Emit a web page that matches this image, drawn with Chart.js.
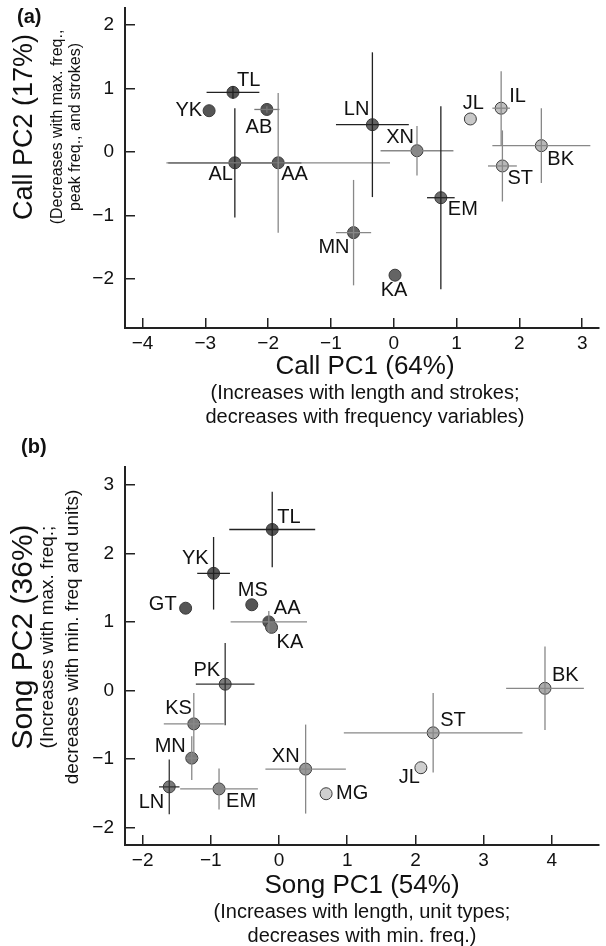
<!DOCTYPE html>
<html>
<head>
<meta charset="utf-8">
<title>Call and song PCA</title>
<script src="https://cdn.jsdelivr.net/npm/chart.js@4.4.0/dist/chart.umd.min.js"></script>
<style>
    body { margin: 0; background: #fff; width: 606px; height: 946px; position: relative; overflow: hidden; }
    canvas { position: absolute; left: 0; }
    #callChart { top: 0; }
    #songChart { top: 430px; }
</style>
</head>
<body>
<canvas id="callChart" width="606" height="440"></canvas>
<canvas id="songChart" width="606" height="516"></canvas>
<script>
// Panel (a): call PCA
const callSites = ['TL', 'YK', 'AB', 'AL', 'AA', 'LN', 'MN', 'XN', 'EM', 'KA', 'JL', 'IL', 'ST', 'BK'];
const callPC1 = [-2.56, -2.94, -2.02, -2.53, -1.84, -0.34, -0.64, 0.37, 0.75, 0.02, 1.22, 1.71, 1.73, 2.35];
const callPC2 = [0.94, 0.65, 0.67, -0.17, -0.17, 0.43, -1.27, 0.02, -0.72, -1.94, 0.52, 0.69, -0.22, 0.10];
const callErrPC1 = [0.42, 0, 0.20, 1.06, 1.78, 0.58, 0.28, 0.58, 0.22, 0, 0, 0.14, 0.23, 0.78];
const callErrPC2 = [0.10, 0, 0.05, 0.86, 1.10, 1.14, 0.83, 0.39, 1.44, 0, 0, 0.58, 0.56, 0.59];
const callTicksX = [-4, -3, -2, -1, 0, 1, 2, 3];
const callTicksY = [-2, -1, 0, 1, 2];

// Panel (b): song PCA
const songSites = ['TL', 'YK', 'GT', 'MS', 'AA', 'KA', 'PK', 'KS', 'MN', 'LN', 'EM', 'XN', 'MG', 'ST', 'JL', 'BK'];
const songPC1 = [-0.10, -0.96, -1.37, -0.40, -0.15, -0.11, -0.79, -1.25, -1.28, -1.61, -0.88, 0.39, 0.69, 2.26, 2.08, 3.90];
const songPC2 = [2.35, 1.71, 1.20, 1.25, 1.00, 0.92, 0.09, -0.49, -0.99, -1.41, -1.44, -1.15, -1.51, -0.62, -1.13, 0.03];
const songErrPC1 = [0.63, 0.24, 0, 0, 0.56, 0, 0.43, 0.44, 0.10, 0.15, 0.57, 0.59, 0, 1.31, 0, 0.57];
const songErrPC2 = [0.55, 0.53, 0, 0, 0.16, 0, 0.60, 0.45, 0.32, 0.40, 0.30, 0.65, 0, 0.58, 0, 0.61];
const songTicksX = [-2, -1, 0, 1, 2, 3, 4];
const songTicksY = [-2, -1, 0, 1, 2, 3];

// Styles (fill, error bar colour, label offset [dx, dy, align])
const callFill = ['#555', '#555', '#555', '#5c5c5c', '#5c5c5c', '#646464', '#646464', '#8a8a8a', '#6c6c6c', '#646464', '#c8c8c8', '#c0c0c0', '#b8b8b8', '#b8b8b8'];
const callBarColor = ['#222', '#777', '#777', '#222', '#888', '#222', '#888', '#888', '#222', '#888', '#888', '#888', '#888', '#888'];
const callLabelPos = [
    [4, -12, 'left'], [-7, 0, 'right'], [-8, 18, 'center'], [-2, 12, 'right'], [3, 12, 'left'],
    [-3, -15, 'right'], [-4, 15, 'right'], [-3, -13, 'right'], [7, 12, 'left'], [-1, 15, 'center'],
    [3, -15, 'center'], [8, -12, 'left'], [5, 13, 'left'], [6, 14, 'left']
];

const songFill = ['#555', '#555', '#555', '#555', '#555', '#777', '#7c7c7c', '#7c7c7c', '#7c7c7c', '#7c7c7c', '#888', '#999', '#cfcfcf', '#ababab', '#cfcfcf', '#ababab'];
const songBarColor = ['#222', '#222', '#888', '#888', '#888', '#888', '#333', '#888', '#888', '#333', '#888', '#888', '#888', '#888', '#888', '#888'];
const songLabelPos = [
    [5, -12, 'left'], [-5, -15, 'right'], [-9, -4, 'right'], [1, -14, 'center'], [5, -13, 'left'],
    [5, 15, 'left'], [-5, -14, 'right'], [-2, -15, 'right'], [-6, -12, 'right'], [-5, 16, 'right'],
    [7, 13, 'left'], [-6, -13, 'right'], [10, 0, 'left'], [7, -12, 'left'], [-1, 10, 'right'], [7, -13, 'left']
];

const FONT = "'Liberation Sans', Arial, Helvetica, sans-serif";

function minusSign(v) {
    return String(v).replace('-', '\u2212');
}

// error bars, site labels and axis titles
function overlayPlugin(p) {
    return {
        id: 'overlay',
        afterDatasetsDraw(chart) {
            const ctx = chart.ctx;
            const xs = chart.scales.x;
            const ys = chart.scales.y;
            ctx.save();
            ctx.lineWidth = 1.3;
            p.x.forEach((x, i) => {
                const cx = xs.getPixelForValue(x);
                const cy = ys.getPixelForValue(p.y[i]);
                ctx.strokeStyle = p.barColor[i];
                if (p.ex[i] > 0) {
                    ctx.beginPath();
                    ctx.moveTo(xs.getPixelForValue(x - p.ex[i]), cy);
                    ctx.lineTo(xs.getPixelForValue(x + p.ex[i]), cy);
                    ctx.stroke();
                }
                if (p.ey[i] > 0) {
                    ctx.beginPath();
                    ctx.moveTo(cx, ys.getPixelForValue(p.y[i] - p.ey[i]));
                    ctx.lineTo(cx, ys.getPixelForValue(p.y[i] + p.ey[i]));
                    ctx.stroke();
                }
            });
            ctx.fillStyle = '#111';
            ctx.font = '20px ' + FONT;
            ctx.textBaseline = 'middle';
            p.sites.forEach((s, i) => {
                const pos = p.labelPos[i];
                ctx.textAlign = pos[2];
                ctx.fillText(s, xs.getPixelForValue(p.x[i]) + pos[0], ys.getPixelForValue(p.y[i]) + pos[1]);
            });
            ctx.restore();
        },
        afterDraw(chart) {
            const ctx = chart.ctx;
            const t = p.titles;
            ctx.save();
            ctx.fillStyle = '#111';
            ctx.textBaseline = 'alphabetic';

            ctx.font = 'bold 20px ' + FONT;
            ctx.textAlign = 'left';
            ctx.fillText(t.panel[0], t.panel[1], t.panel[2]);

            ctx.textAlign = 'center';
            ctx.font = t.xSize + 'px ' + FONT;
            ctx.fillText(t.x[0], t.xCenter, t.xBase[0]);
            ctx.font = t.xSubSize + 'px ' + FONT;
            ctx.fillText(t.x[1], t.xCenter, t.xBase[1]);
            ctx.fillText(t.x[2], t.xCenter, t.xBase[2]);

            ctx.translate(0, t.yCenter);
            ctx.rotate(-Math.PI / 2);
            ctx.font = t.ySize + 'px ' + FONT;
            ctx.fillText(t.y[0], 0, t.yBase[0]);
            ctx.font = t.ySubSize + 'px ' + FONT;
            ctx.fillText(t.y[1], 0, t.yBase[1]);
            ctx.fillText(t.y[2], 0, t.yBase[2]);
            ctx.restore();
        }
    };
}

function axis(min, max, ticks, fixedSize, isX, pad) {
    return {
        type: 'linear',
        min: min,
        max: max,
        afterBuildTicks: s => { s.ticks = ticks.map(v => ({ value: v })); },
        afterFit: s => {
            if (isX) s.height = fixedSize;
            else s.width = fixedSize;
            // keep the plot area where the layout padding puts it
            s.paddingTop = 0;
            s.paddingBottom = 0;
            s.paddingLeft = 0;
            s.paddingRight = 0;
        },
        border: { display: true, color: '#222', width: 2 },
        grid: { display: true, drawOnChartArea: false, drawTicks: true, tickLength: -10, color: '#222', lineWidth: 1.5 },
        ticks: {
            includeBounds: false,
            padding: pad,
            color: '#111',
            font: { family: FONT, size: 19 },
            callback: v => minusSign(v)
        }
    };
}

function makeChart(id, p) {
    return new Chart(document.getElementById(id), {
        type: 'scatter',
        data: {
            datasets: [{
                data: p.x.map((x, i) => ({ x: x, y: p.y[i] })),
                pointRadius: 6,
                pointBorderWidth: 1,
                pointBorderColor: '#3a3a3a',
                pointBackgroundColor: p.fill
            }]
        },
        options: {
            responsive: false,
            animation: false,
            events: [],
            layout: { padding: p.padding },
            plugins: { legend: { display: false }, tooltip: { enabled: false } },
            scales: {
                x: axis(p.xMin, p.xMax, p.ticksX, p.xHeight, true, 14),
                y: axis(p.yMin, p.yMax, p.ticksY, 125, false, 21)
            }
        },
        plugins: [overlayPlugin(p)]
    });
}

document.addEventListener('DOMContentLoaded', () => {
    makeChart('callChart', {
        sites: callSites, x: callPC1, y: callPC2, ex: callErrPC1, ey: callErrPC2,
        fill: callFill, barColor: callBarColor, labelPos: callLabelPos,
        ticksX: callTicksX, ticksY: callTicksY,
        xMin: -4.279, xMax: 3.268, yMin: -2.772, yMax: 2.268,
        xHeight: 112,
        padding: { top: 8, right: -1, left: 0, bottom: 0 },
        titles: {
            panel: ['(a)', 17, 23],
            x: ['Call PC1 (64%)', '(Increases with length and strokes;', 'decreases with frequency variables)'],
            xCenter: 365, xBase: [374, 399, 423], xSize: 26, xSubSize: 20,
            y: ['Call PC2 (17%)', '(Decreases with max. freq.,', 'peak freq., and strokes)'],
            yCenter: 127, yBase: [32, 62, 80], ySize: 27, ySubSize: 16
        }
    });

    makeChart('songChart', {
        sites: songSites, x: songPC1, y: songPC2, ex: songErrPC1, ey: songErrPC2,
        fill: songFill, barColor: songBarColor, labelPos: songLabelPos,
        ticksX: songTicksX, ticksY: songTicksY,
        xMin: -2.259, xMax: 4.692, yMin: -2.259, yMax: 3.267,
        xHeight: 101,
        padding: { top: 36.7, right: 3, left: 0, bottom: 0 },
        titles: {
            panel: ['(b)', 21, 23],
            x: ['Song PC1 (54%)', '(Increases with length, unit types;', 'decreases with min. freq.)'],
            xCenter: 362, xBase: [463, 488, 512], xSize: 26, xSubSize: 20,
            y: ['Song PC2 (36%)', '(Increases with max. freq.;', 'decreases with min. freq and units)'],
            yCenter: 207, yBase: [32, 53, 78], ySize: 30, ySubSize: 19
        }
    });
});
</script>
</body>
</html>
